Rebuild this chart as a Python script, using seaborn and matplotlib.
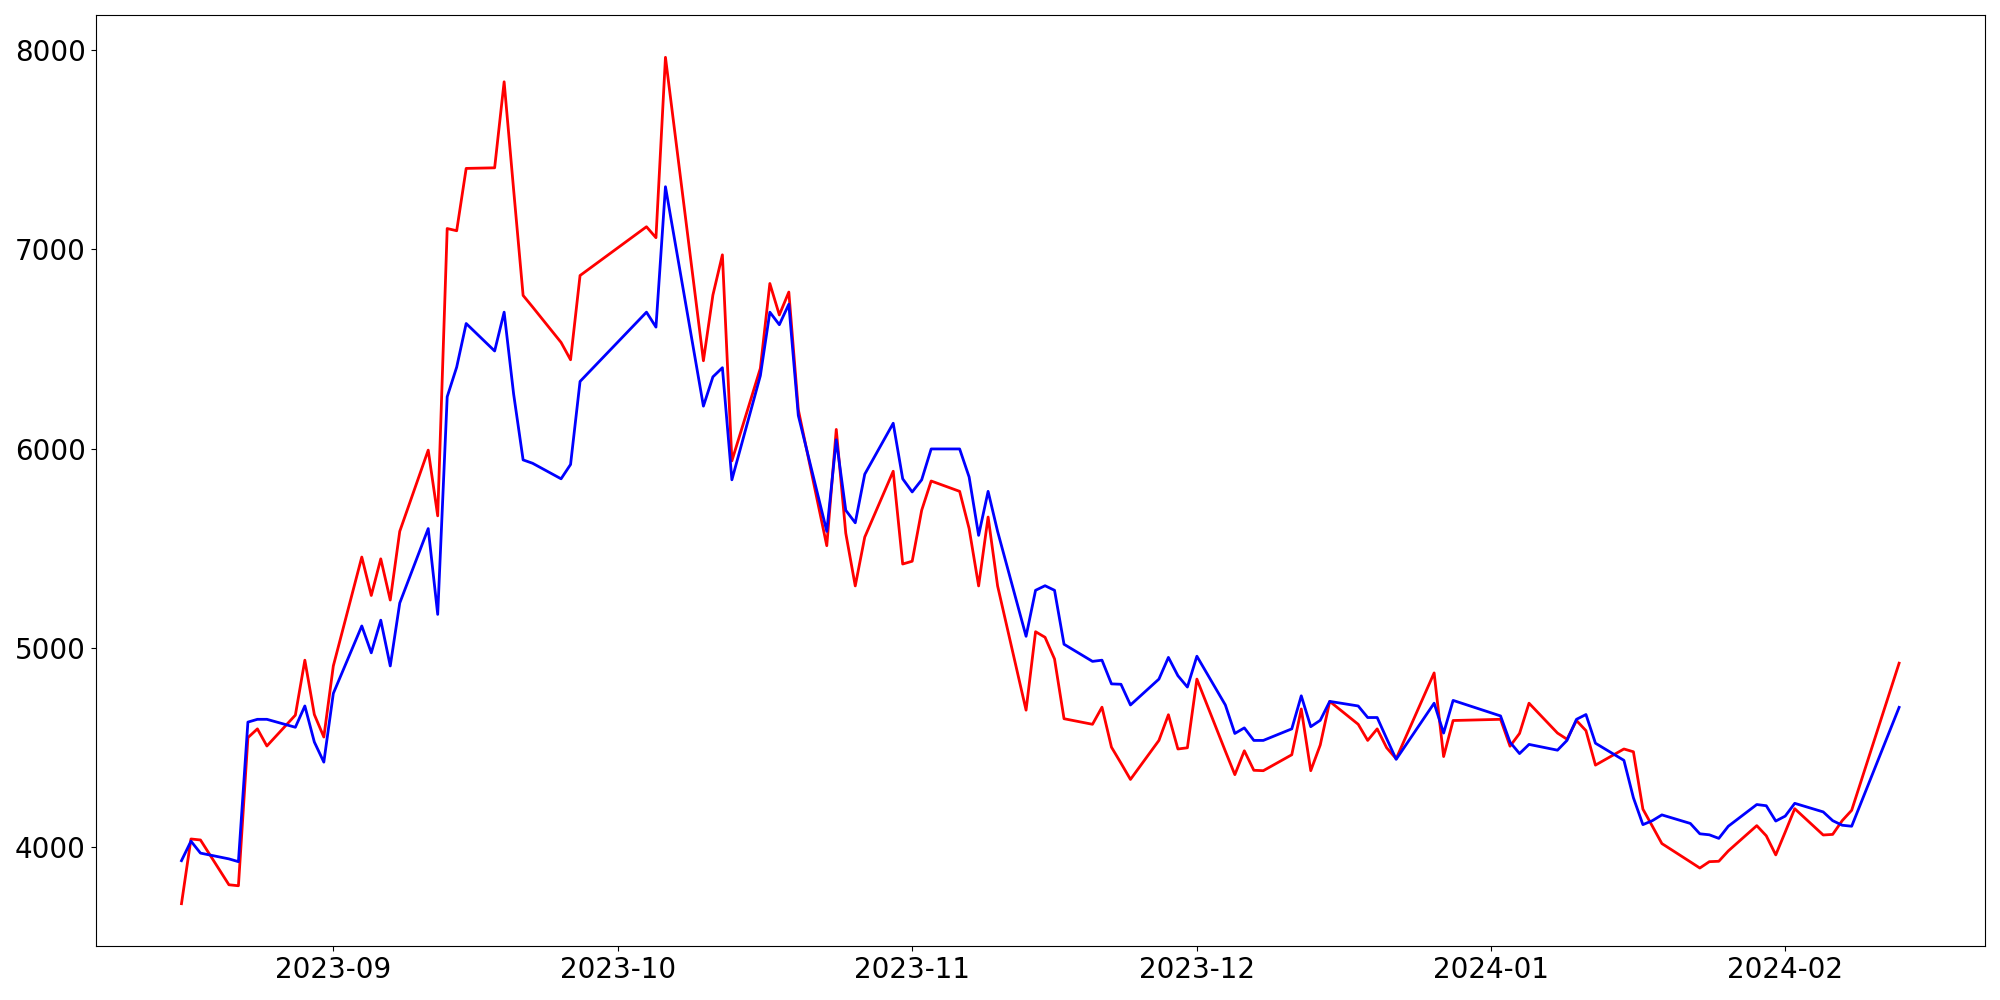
import pandas as pd
import numpy as np
import matplotlib
matplotlib.use("Agg")
import matplotlib.pyplot as plt
import seaborn as sns

# fechas de cada mes (dias con dato)
dias_ago = ["2023-08-%02d" % d for d in [16, 17, 18, 21, 22, 23, 24, 25, 28, 29, 30, 31]]
dias_sep = ["2023-09-%02d" % d for d in [1, 4, 5, 6, 7, 8, 11, 12, 13, 14, 15, 18, 19, 20, 21, 22, 25, 26, 27]]
dias_oct = ["2023-10-%02d" % d for d in [4, 5, 6, 10, 11, 12, 13, 16, 17, 18, 19, 20, 23, 24, 25, 26, 27, 30, 31]]
dias_nov = ["2023-11-%02d" % d for d in [1, 2, 3, 6, 7, 8, 9, 10, 13, 14, 15, 16, 17, 20, 21, 22, 23, 24, 27, 28, 29, 30]]
dias_dic = ["2023-12-%02d" % d for d in [1, 4, 5, 6, 7, 8, 11, 12, 13, 14, 15, 18, 19, 20, 21, 22, 26, 27, 28]]
dias_ene = ["2024-01-%02d" % d for d in [2, 3, 4, 5, 8, 9, 10, 11, 12, 15, 16, 17, 18, 19, 22, 23, 24, 25, 26, 29, 30, 31]]
dias_feb = ["2024-02-%02d" % d for d in [1, 2, 5, 6, 7, 8, 13]]

rojo = [
    3714, 4039, 4034, 3809, 3804, 4548, 4592, 4506, 4661, 4937, 4664, 4551,
    4908, 5455, 5262, 5446, 5239, 5584, 5992, 5662, 7105, 7094, 7407, 7410, 7842, 7300, 6769, 6711, 6533, 6446, 6869,
    7114, 7059, 7965, 6441, 6771, 6973, 5938, 6403, 6829, 6671, 6786, 6195, 5512, 6096, 5575, 5310, 5555, 5886, 5420,
    5434, 5690, 5837, 5785, 5598, 5310, 5656, 5310, 4686, 5080, 5052, 4943, 4643, 4615, 4701, 4500, 4420, 4338, 4534, 4663, 4491, 4497,
    4842, 4480, 4362, 4482, 4384, 4382, 4462, 4692, 4382, 4511, 4730, 4615, 4534, 4592, 4497, 4442, 4873, 4453, 4634,
    4640, 4505, 4569, 4721, 4571, 4540, 4634, 4583, 4410, 4491, 4477, 4189, 4103, 4016, 3924, 3893, 3925, 3927, 3979, 4106, 4055, 3959,
    4074, 4191, 4059, 4062, 4131, 4183, 4922,
]

azul = [
    3930, 4028, 3968, 3939, 3925, 4626, 4640, 4640, 4600, 4707, 4526, 4425,
    4770, 5109, 4974, 5138, 4908, 5224, 5598, 5167, 6260, 6409, 6628, 6490, 6685, 6274, 5943, 5926, 5848, 5920, 6337,
    6685, 6610, 7315, 6213, 6360, 6406, 5843, 6366, 6685, 6622, 6725, 6166, 5584, 6044, 5690, 5627, 5871, 6127, 5848,
    5782, 5843, 5998, 5998, 5857, 5564, 5785, 5584, 5057, 5288, 5311, 5288, 5017, 4931, 4937, 4818, 4816, 4712, 4842, 4951, 4859, 4802,
    4957, 4712, 4569, 4597, 4534, 4534, 4592, 4758, 4603, 4635, 4730, 4707, 4649, 4649, 4543, 4439, 4721, 4571, 4735,
    4657, 4525, 4468, 4514, 4485, 4534, 4640, 4664, 4520, 4434, 4246, 4111, 4131, 4160, 4117, 4065, 4060, 4042, 4103, 4212, 4206, 4129,
    4154, 4218, 4175, 4131, 4108, 4103, 4700,
]

fechas = pd.to_datetime(dias_ago + dias_sep + dias_oct + dias_nov + dias_dic + dias_ene + dias_feb)
df = pd.DataFrame({"fecha": fechas, "rojo": rojo, "azul": azul})

fig, ax = plt.subplots(figsize=(20, 10))
sns.lineplot(data=df, x="fecha", y="rojo", color="red", lw=2, ax=ax)
sns.lineplot(data=df, x="fecha", y="azul", color="blue", lw=2, ax=ax)
ax.set_xlabel("")
ax.set_ylabel("")
ax.tick_params(axis="both", labelsize=20)
fig.subplots_adjust(left=0.0478, right=0.9925, top=0.985, bottom=0.054)
fig.savefig("out.png", dpi=100)
